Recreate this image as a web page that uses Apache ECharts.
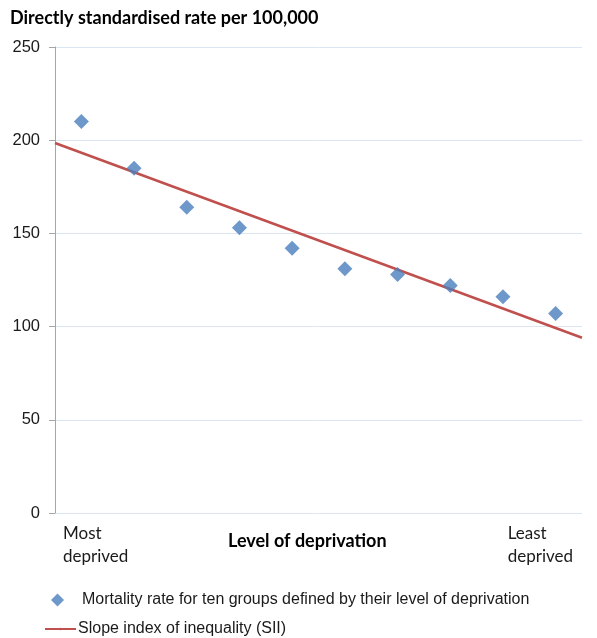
<!DOCTYPE html>
<html>
<head>
<meta charset="utf-8">
<script src="https://cdn.jsdelivr.net/npm/echarts@6/dist/echarts.min.js"></script>
<style>html,body{margin:0;padding:0;background:#fff;}#c{width:597px;height:638px;}</style>
</head>
<body>
<div id="c"></div>
<script>
const groups = ['1','2','3','4','5','6','7','8','9','10'];
const mortality = [210, 185, 164, 153, 142, 131, 128, 122, 116, 107];
const siiEnds = [198.5, 94];
const yTicks = [0, 50, 100, 150, 200, 250];
const yTitle = 'Directly standardised rate per 100,000';
const xTitle = 'Level of deprivation';
const xLeft = 'Most\ndeprived';
const xRight = 'Least\ndeprived';
const seriesNames = ['Mortality rate for ten groups defined by their level of deprivation', 'Slope index of inequality (SII)'];

const chart = echarts.init(document.getElementById('c'));
const scatterData = mortality.map((v, i) => [i + 0.5, v]);
const lineData = [[0, siiEnds[0]], [groups.length, siiEnds[1]]];

chart.setOption({
  animation: false,
  backgroundColor: '#fff',
  grid: { left: 55, right: 15, top: 47, bottom: 125 },
  xAxis: {
    type: 'value', min: 0, max: groups.length,
    axisLine: { show: false }, axisTick: { show: false },
    axisLabel: { show: false }, splitLine: { show: false }
  },
  yAxis: {
    type: 'value', min: yTicks[0], max: yTicks[yTicks.length - 1], interval: 50,
    axisLine: { show: true, lineStyle: { color: '#a6a6a6', width: 1 } },
    axisTick: { show: true, length: 6, lineStyle: { color: '#a6a6a6' } },
    axisLabel: { color: '#1a1a1a', fontSize: 16.5, fontFamily: 'Liberation Sans, Arial', margin: 15 },
    splitLine: { show: true, lineStyle: { color: '#dce6f2', width: 1 } }
  },
  legend: [
    {
      data: [{ name: seriesNames[0], icon: 'diamond' }],
      left: 46, top: 587, itemWidth: 13, itemHeight: 13,
      textStyle: { fontSize: 16, fontFamily: 'Liberation Sans, Arial', color: '#1a1a1a', padding: [0, 0, 0, 13] },
      selectedMode: false
    },
    {
      data: [{ name: seriesNames[1] }],
      left: 39, top: 616, itemWidth: 31, itemHeight: 3,
      textStyle: { fontSize: 16, fontFamily: 'Liberation Sans, Arial', color: '#1a1a1a', padding: [0, 0, 0, -3] },
      selectedMode: false
    }
  ],
  graphic: [
    { type: 'text', left: 10, top: 9, style: { text: yTitle, font: 'bold 18px Lato, "Liberation Sans", Arial', fill: '#000' } },
    { type: 'text', left: 63, top: 522, style: { text: xLeft, font: '17px Lato, "Liberation Sans", Arial', fill: '#1a1a1a', lineHeight: 23 } },
    { type: 'text', right: 24, top: 522, style: { text: xRight, font: '17px Lato, "Liberation Sans", Arial', fill: '#1a1a1a', lineHeight: 23, align: 'right' } },
    { type: 'text', left: 228, top: 532, style: { text: xTitle, font: 'bold 18px Lato, "Liberation Sans", Arial', fill: '#000' } }
  ],
  series: [
    {
      name: seriesNames[0], type: 'scatter', symbol: 'diamond', symbolSize: 15,
      itemStyle: { color: '#4a7ebb' }, data: scatterData, z: 3
    },
    {
      name: seriesNames[1], type: 'line', symbol: 'none',
      lineStyle: { color: '#c0504d', width: 2.5 }, itemStyle: { color: '#c0504d' },
      data: lineData, z: 2
    }
  ]
});
</script>
</body>
</html>
